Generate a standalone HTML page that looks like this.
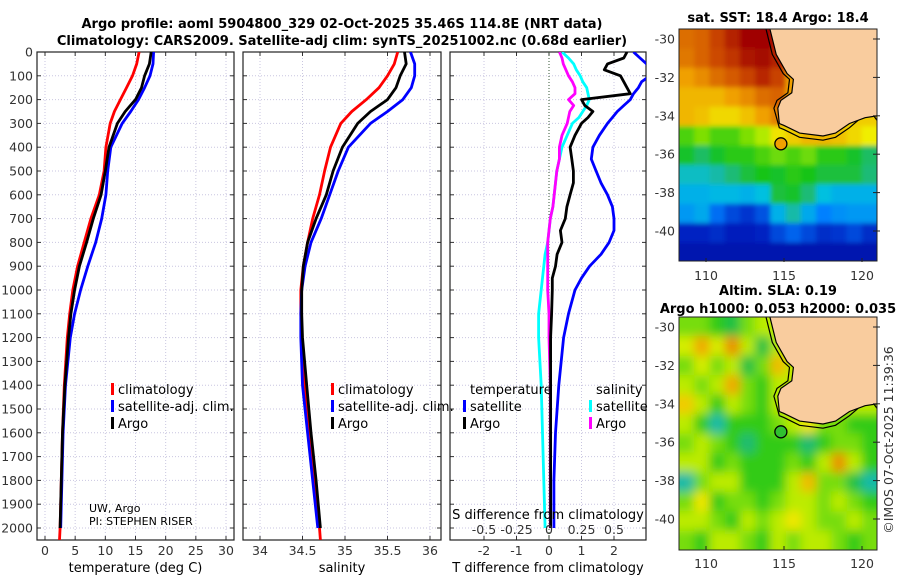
<!DOCTYPE html>
<html><head><meta charset="utf-8">
<style>
html,body{margin:0;padding:0;background:#fff;}
svg{display:block;font-family:"DejaVu Sans","Liberation Sans",sans-serif;}
.tk{font-size:12.5px;fill:#333;}
.tt{font-size:13px;font-weight:bold;fill:#000;}
.lg{font-size:13px;fill:#000;}
</style></head>
<body>
<svg id="fig" width="900" height="580" viewBox="0 0 900 580" xmlns="http://www.w3.org/2000/svg">
<defs>
<clipPath id="c1"><rect x="37" y="52" width="197" height="488"/></clipPath>
<clipPath id="c2"><rect x="243" y="52" width="198" height="488"/></clipPath>
<clipPath id="c3"><rect x="450" y="52" width="196" height="488"/></clipPath>
<clipPath id="cm1"><rect x="679" y="29" width="198" height="232"/></clipPath>
<clipPath id="cm2"><rect x="679" y="317" width="198" height="233"/></clipPath>
<filter id="bl1" x="-5%" y="-5%" width="110%" height="110%"><feGaussianBlur stdDeviation="2.5"/></filter>
<filter id="bl2" x="-5%" y="-5%" width="110%" height="110%"><feGaussianBlur stdDeviation="5"/></filter>
</defs>
<text class="tt" x="342" y="28" text-anchor="middle">Argo profile: aoml 5904800_329 02-Oct-2025 35.46S 114.8E (NRT data)</text>
<text class="tt" x="342" y="45" text-anchor="middle">Climatology: CARS2009. Satellite-adj clim: synTS_20251002.nc (0.68d earlier)</text>
<g id="g"></g>
</svg>
<script>
// ---------- data ----------
const depthsTS = [0,50,100,150,200,250,300,400,500,600,700,800,900,1000,1100,1200,1400,1600,1800,2000];
const tempClim = [15.6,15.2,14.5,13.5,12.5,11.5,10.8,10.1,9.8,9.0,7.6,6.5,5.4,4.6,4.1,3.7,3.2,2.9,2.7,2.5];
const tempArgo = [17.6,17.3,16.5,16.0,15.0,13.3,12.0,10.6,10.0,9.3,8.0,6.9,5.7,4.9,4.3,3.9,3.3,2.9,2.7,2.5];
const tempSat  = [18.0,17.9,17.4,16.5,15.5,14.2,12.8,10.9,10.4,10.1,9.4,8.4,7.1,5.9,4.9,4.2,3.4,3.0,2.8,2.6];
const salClim = [35.62,35.58,35.5,35.4,35.25,35.08,34.95,34.83,34.76,34.7,34.62,34.56,34.51,34.48,34.48,34.49,34.53,34.58,34.64,34.7];
const salArgo = [35.7,35.72,35.65,35.6,35.5,35.3,35.15,34.97,34.86,34.78,34.66,34.56,34.51,34.49,34.49,34.5,34.55,34.6,34.66,34.71];
const salSat  = [35.77,35.82,35.82,35.78,35.68,35.5,35.3,35.04,34.92,34.82,34.72,34.6,34.53,34.49,34.48,34.48,34.5,34.56,34.62,34.68];
const depthsDiff = [0,25,50,75,100,125,150,175,200,225,250,275,300,350,400,450,500,550,600,650,700,750,800,850,900,950,1000,1100,1200,1400,1600,1800,2000];
const tDiffSat  = [2.6,2.8,3.0,3.1,3.1,2.85,2.75,2.6,2.5,2.3,2.1,1.95,1.8,1.55,1.35,1.3,1.45,1.6,1.8,1.95,2.0,2.0,1.85,1.6,1.25,1.0,0.8,0.6,0.45,0.3,0.2,0.15,0.15];
const tDiffArgo = [2.4,2.3,1.8,1.7,2.2,2.3,2.4,2.5,1.0,1.1,1.35,1.2,1.0,0.8,0.65,0.7,0.75,0.75,0.65,0.55,0.5,0.35,0.4,0.25,0.2,0.1,0.1,0.08,0.05,0.05,0.05,0.05,0.05];
const sDiffSat  = [0.1,0.15,0.19,0.21,0.24,0.26,0.29,0.3,0.31,0.29,0.26,0.23,0.18,0.14,0.1,0.08,0.06,0.05,0.04,0.03,0.01,0,-0.01,-0.03,-0.04,-0.05,-0.06,-0.08,-0.08,-0.06,-0.05,-0.04,-0.03];
const sDiffArgo = [0.08,0.1,0.11,0.13,0.15,0.18,0.2,0.2,0.15,0.19,0.16,0.15,0.14,0.1,0.08,0.08,0.06,0.05,0.04,0.03,0.01,0,-0.01,-0.01,-0.01,-0.01,-0.01,0,0,0.01,0.01,0.01,0.01];
const depthTicks = [0,100,200,300,400,500,600,700,800,900,1000,1100,1200,1300,1400,1500,1600,1700,1800,1900,2000];
const tempTicks = [0,5,10,15,20,25,30];
const salTicks = [34,34.5,35,35.5,36];
const tDiffTicks = [-2,-1,0,1,2];
const sDiffTicks = [-0.5,-0.25,0,0.25,0.5];
const lonTicks = [110,115,120];
const latTicks = [-30,-32,-34,-36,-38,-40];
const sstGrid = [
[20.5,20.6,21.0,21.5,22.1,22.2,21.7,20.0,20,20,20,20,20],
[20.4,20.6,20.9,21.2,21.7,21.9,21.5,20.0,20,20,20,20,20],
[20.0,20.2,20.5,20.7,21.0,21.4,21.0,20.0,20,20,20,20,20],
[19.8,19.8,19.8,20.0,20.2,20.5,20.6,20.0,20,20,20,20,20],
[19.8,19.7,19.5,19.5,19.7,20.0,20.3,20.2,19.8,19.8,19.6,19.6,19.6],
[18.3,18.6,18.3,18.3,18.6,18.9,19.4,19.6,19.8,19.8,19.7,19.5,19.3],
[17.9,17.6,17.9,18.1,18.1,18.3,18.5,18.3,18.5,18.1,18.1,17.9,17.6],
[17.0,17.0,17.2,17.5,17.8,18.0,17.9,18.1,18.0,17.8,17.8,17.8,17.5],
[16.6,16.6,16.7,16.7,16.6,16.8,17.8,17.9,17.5,16.8,16.6,16.6,16.6],
[16.3,16.5,15.8,15.4,15.2,15.5,16.6,17.2,16.5,16.0,16.2,16.3,16.3],
[15.0,15.0,15.1,14.9,14.9,15.0,15.4,15.7,15.4,15.1,15.2,15.4,15.1],
[14.7,14.7,14.7,14.7,14.7,14.7,14.7,14.7,14.7,14.7,14.7,14.7,14.7]];
const slaGrid = [
[.55,.55,.5,.45,.55,.6,.6,.6,.6,.6,.6,.6,.6],
[.62,.72,.62,.75,.6,.45,.6,.6,.6,.6,.6,.6,.6],
[.55,.62,.55,.6,.45,.55,.7,.6,.6,.6,.6,.6,.6],
[.6,.55,.6,.72,.55,.5,.6,.6,.6,.6,.6,.6,.6],
[.68,.6,.5,.6,.55,.5,.6,.65,.65,.6,.6,.6,.6],
[.6,.5,.38,.5,.5,.5,.55,.6,.65,.55,.55,.5,.5],
[.55,.6,.55,.5,.42,.5,.5,.5,.42,.5,.55,.55,.5],
[.6,.6,.5,.55,.5,.5,.5,.55,.5,.6,.75,.6,.5],
[.38,.55,.6,.6,.5,.5,.5,.6,.7,.55,.55,.45,.38],
[.55,.65,.5,.55,.55,.5,.55,.6,.6,.55,.6,.55,.5],
[.6,.6,.55,.5,.6,.55,.6,.65,.6,.55,.55,.6,.55],
[.55,.5,.6,.6,.55,.5,.6,.55,.6,.6,.55,.5,.55]];
const coastLon = [114.1,114.5,115.2,115.6,115.5,114.8,114.6,114.7,115.0,116.0,117.5,118.3,119.2,120.2,121,121];
const coastLat = [-29.5,-30.8,-31.8,-32.1,-32.8,-33.2,-33.6,-34.4,-34.5,-34.9,-35.05,-34.9,-34.4,-34.1,-34.0,-29.5];
const argoLon = 114.8, argoLat = -35.46;

// ---------- helpers ----------
const NS='http://www.w3.org/2000/svg';
const G=document.getElementById('g');
function mk(tag,at,parent){const e=document.createElementNS(NS,tag);for(const k in at)e.setAttribute(k,at[k]);(parent||G).appendChild(e);return e;}
function txt(s,at,parent){const e=mk('text',at,parent);e.textContent=s;return e;}
const yD = d => 52 + d*0.238;
function lin(v0,p0,v1,p1){return v=>p0+(v-v0)*(p1-p0)/(v1-v0);}
const xT = lin(0,45,30,226);
const xS = lin(34,260,36,430);
const xDT = lin(-2,484,2,614);
const xDS = v => xDT(v*4);
const panels=[{x:37,w:197,sx:xT,ticks:tempTicks,lab:'temperature (deg C)',clip:'c1',name:'temperature'},
  {x:243,w:198,sx:xS,ticks:salTicks,lab:'salinity',clip:'c2',name:'salinity'},
  {x:450,w:196,sx:xDT,ticks:tDiffTicks,lab:'T difference from climatology',clip:'c3',name:'difference'}];
panels.forEach((p,pi)=>{
  const grp=mk('g',{});
  
  
  depthTicks.forEach(d=>{
    const l=mk('line',{x1:p.x,x2:p.x+p.w,y1:yD(d),y2:yD(d),stroke:'#c9c6e0','stroke-dasharray':'1,2','stroke-width':1},grp);
    
    
    mk('line',{x1:p.x,x2:p.x+4,y1:yD(d),y2:yD(d),stroke:'#333'},grp);
    mk('line',{x1:p.x+p.w-4,x2:p.x+p.w,y1:yD(d),y2:yD(d),stroke:'#333'},grp);
    if(pi===0){const t=txt(String(d),{x:33,y:yD(d)+4.5,'text-anchor':'end',class:'tk'},grp);
      
      }
  });
  p.ticks.forEach(v=>{
    const X=p.sx(v);
    const l=mk('line',{x1:X,x2:X,y1:52,y2:540,stroke:'#c9c6e0','stroke-dasharray':'1,2'},grp);
    
    
    mk('line',{x1:X,x2:X,y1:540,y2:536,stroke:'#333'},grp);
    mk('line',{x1:X,x2:X,y1:52,y2:56,stroke:'#333'},grp);
    const t=txt(String(v),{x:X,y:555,'text-anchor':'middle',class:'tk'},grp);
    
    
  });
  const r=mk('rect',{x:p.x,y:52,width:p.w,height:488,fill:'none',stroke:'#222','stroke-width':1.2},grp);
  
  
  const at=txt(p.lab,{x:p.x+p.w/2,y:572,'text-anchor':'middle',class:'lg',fill:'#333'},grp);
  
  
});
const zl=mk('line',{x1:xDT(0),x2:xDT(0),y1:52,y2:540,stroke:'#335533','stroke-dasharray':'1,2'});



function series(ds,vs,sx,color,clip,name,extra){
  let pts=ds.map((d,i)=>sx(vs[i]).toFixed(1)+','+yD(d).toFixed(1));
  if(extra) pts.push(sx(extra[1]).toFixed(1)+','+yD(extra[0]).toFixed(1));
  const g=mk('g',{'clip-path':'url(#'+clip+')'});
  const l=mk('polyline',{points:pts.join(' '),fill:'none',stroke:color,'stroke-width':2.8,'stroke-linejoin':'round'},g);
  
  
}
series(depthsTS,tempClim,xT,'#f00','c1','temp-climatology-line',[2050,2.4]);
series(depthsTS,tempSat,xT,'#00f','c1','temp-satellite-line');
series(depthsTS,tempArgo,xT,'#000','c1','temp-argo-line');
series(depthsTS,salClim,xS,'#f00','c2','sal-climatology-line',[2050,34.71]);
series(depthsTS,salSat,xS,'#00f','c2','sal-satellite-line');
series(depthsTS,salArgo,xS,'#000','c2','sal-argo-line');
series(depthsDiff,tDiffSat,xDT,'#00f','c3','tdiff-satellite-line');
series(depthsDiff,sDiffSat,xDS,'#0ff','c3','sdiff-satellite-line');
series(depthsDiff,sDiffArgo,xDS,'#f0f','c3','sdiff-argo-line');
series(depthsDiff,tDiffArgo,xDT,'#000','c3','tdiff-argo-line');

function leg(x,y,color,label,name){
  if(color){const m=mk('rect',{x:x,y:y-9,width:3,height:12,fill:color});
    
    }
  const t=txt(label,{x:color?x+7:x,y:y+2,class:'lg'});
  
  
}
[[111,'temp'],[331,'sal']].forEach(([x,n])=>{
  leg(x,392,'#f00','climatology',n+'-legend-climatology');
  leg(x,409,'#00f','satellite-adj. clim.',n+'-legend-satellite');
  leg(x,426,'#000','Argo',n+'-legend-argo');
});
leg(470,392,null,'temperature','diff-legend-temperature-header');
leg(463,409,'#00f','satellite','diff-legend-t-satellite');
leg(463,426,'#000','Argo','diff-legend-t-argo');
leg(596,392,null,'salinity','diff-legend-salinity-header');
leg(589,409,'#0ff','satellite','diff-legend-s-satellite');
leg(589,426,'#f0f','Argo','diff-legend-s-argo');
const u1=txt('UW, Argo',{x:89,y:512,'font-size':11,fill:'#000'});


const u2=txt('PI: STEPHEN RISER',{x:89,y:525,'font-size':11,fill:'#000'});


const sd=txt('S difference from climatology',{x:548,y:519,'text-anchor':'middle',class:'lg',fill:'#222'});


sDiffTicks.forEach(v=>{
  const t=txt(String(v),{x:xDS(v),y:534,'text-anchor':'middle',class:'tk'});
  
  
});

// maps
const stops=[[0,'#000080'],[.12,'#0020c0'],[.25,'#0080ff'],[.35,'#00c0e0'],[.42,'#20b890'],[.5,'#18c418'],[.6,'#a0e800'],[.66,'#f0f000'],[.75,'#f0a000'],[.85,'#d05000'],[1,'#a00000']];
function hex(h){return [1,3,5].map(i=>parseInt(h.substr(i,2),16));}
function cmap(t){t=Math.max(0,Math.min(1,t));for(let i=1;i<stops.length;i++){if(t<=stops[i][0]){const a=stops[i-1],b=stops[i],f=(t-a[0])/(b[0]-a[0]);const A=hex(a[1]),B=hex(b[1]);return 'rgb('+A.map((c,k)=>Math.round(c+(B[k]-c)*f)).join(',')+')';}}return stops[stops.length-1][1];}
function drawMap(top,grid,tf,clip,name,argoFill,blur){
  const mx=lin(110,706,120,862), my=lin(-30,top+10,-40,top+202);
  const grp=mk('g',{'clip-path':'url(#'+clip+')'});
  
  
  const cg=mk('g',{filter:'url(#'+blur+')'},grp);
  const rows=grid.length, cols=grid[0].length, cw=198/cols, ch=233/rows;
  grid.forEach((row,r)=>row.forEach((v,c)=>{
    const x0=679+c*cw-(c===0?10:0), y0=top+r*ch-(r===0?10:0);
    const cell=mk('rect',{x:x0,y:y0,width:cw+0.6+(c===0||c===cols-1?10:0),height:ch+0.6+(r===0||r===rows-1?10:0),fill:cmap(tf(v))},cg);
    
    
  }));
  const iso=coastLon.slice(0,15).map((l,i)=>{
    const south=coastLat[i]<=-34.4;
    return mx(l-(south?0:0.25)).toFixed(1)+','+my(coastLat[i]-(south?0.22:0)).toFixed(1);});
  const isoL=mk('polyline',{points:iso.join(' ')+' '+mx(121.2).toFixed(1)+','+my(-34.5).toFixed(1),fill:'none',stroke:'#000','stroke-width':1.2},grp);
  
  
  const pts=coastLon.map((l,i)=>mx(l).toFixed(1)+','+my(coastLat[i]).toFixed(1));
  const land=mk('polygon',{points:pts.join(' ')+' '+mx(121.5)+','+my(-29)+' '+mx(114)+','+my(-29),fill:'#f9cc9e',stroke:'#000','stroke-width':1.2},grp);
  
  
  const ac=mk('circle',{cx:mx(argoLon),cy:my(argoLat),r:6,fill:argoFill,stroke:'#000','stroke-width':1.3});
  
  
  const fr=mk('rect',{x:679,y:top,width:198,height:(clip==='cm1'?232:233),fill:'none',stroke:'#222'});
  
  
  lonTicks.forEach(v=>{
    mk('line',{x1:mx(v),x2:mx(v),y1:top+233,y2:top+229,stroke:'#222'});
    const t=txt(String(v),{x:mx(v),y:top+251,'text-anchor':'middle',class:'tk'});
    
    
  });
  latTicks.forEach(v=>{
    mk('line',{x1:873,x2:880,y1:my(v),y2:my(v),stroke:'#222'});
    const t=txt(String(v),{x:675,y:my(v)+4.5,'text-anchor':'end',class:'tk'});
    
    
  });
}
drawMap(29,sstGrid,v=>(v-14)/8,'cm1','sst-map','#f0a000','bl1');
drawMap(317,slaGrid,v=>v+0.02,'cm2','sla-map','#30c030','bl2');
[['sat. SST: 18.4 Argo: 18.4',778,22,'sst-map-title'],['Altim. SLA: 0.19',778,295,'sla-map-title'],['Argo h1000: 0.053 h2000: 0.035',778,313,'sla-map-subtitle']].forEach(a=>{
  const t=txt(a[0],{x:a[1],y:a[2],'text-anchor':'middle',class:'tt'});
  
  
});
const cp=txt('©IMOS 07-Oct-2025 11:39:36',{x:0,y:0,'text-anchor':'middle',class:'tk',transform:'translate(893,440) rotate(-90)'});


</script>
</body></html>
